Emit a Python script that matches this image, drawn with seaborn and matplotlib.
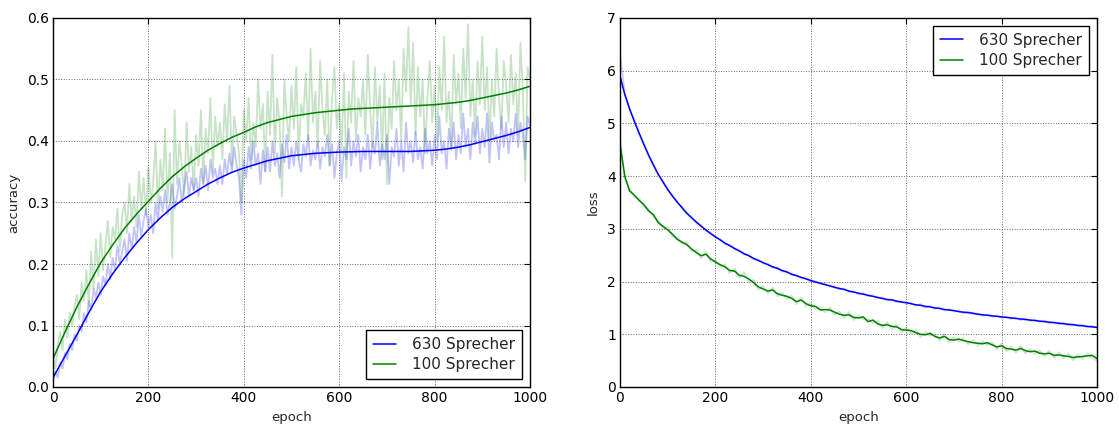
import matplotlib
matplotlib.use("Agg")
import matplotlib.pyplot as plt
import seaborn as sns
import pandas as pd

# ---------------- data ----------------
series_labels = ["630 Sprecher", "100 Sprecher"]

acc_epochs_raw = list(range(0, 1001, 5))
acc630_raw = [
    0.010, 0.025, 0.015, 0.040, 0.030, 0.055, 0.045, 0.070, 0.060, 0.085,
    0.075, 0.100, 0.090, 0.120, 0.105, 0.140, 0.125, 0.160, 0.145, 0.170,
    0.150, 0.180, 0.165, 0.200, 0.175, 0.210, 0.190, 0.230, 0.200, 0.220,
    0.240, 0.205, 0.250, 0.225, 0.260, 0.235, 0.280, 0.245, 0.270, 0.290,
    0.260, 0.280, 0.250, 0.300, 0.270, 0.310, 0.285, 0.320, 0.280, 0.300,
    0.330, 0.290, 0.310, 0.340, 0.300, 0.325, 0.350, 0.310, 0.340, 0.320,
    0.340, 0.310, 0.355, 0.330, 0.360, 0.320, 0.370, 0.340, 0.355, 0.330,
    0.360, 0.330, 0.370, 0.345, 0.380, 0.350, 0.390, 0.360, 0.340, 0.280,
    0.370, 0.340, 0.390, 0.355, 0.400, 0.360, 0.380, 0.330, 0.385, 0.350,
    0.390, 0.350, 0.400, 0.360, 0.380, 0.340, 0.395, 0.365, 0.410, 0.355,
    0.390, 0.360, 0.400, 0.370, 0.350, 0.395, 0.375, 0.410, 0.360, 0.385,
    0.370, 0.400, 0.355, 0.390, 0.375, 0.410, 0.360, 0.395, 0.340, 0.380,
    0.400, 0.335, 0.390, 0.370, 0.420, 0.360, 0.400, 0.375, 0.410, 0.350,
    0.390, 0.370, 0.410, 0.355, 0.400, 0.380, 0.430, 0.360, 0.395, 0.370,
    0.410, 0.330, 0.390, 0.375, 0.420, 0.360, 0.400, 0.350, 0.430, 0.380,
    0.400, 0.365, 0.415, 0.370, 0.390, 0.355, 0.420, 0.380, 0.400, 0.360,
    0.410, 0.370, 0.440, 0.380, 0.400, 0.355, 0.420, 0.385, 0.430, 0.370,
    0.410, 0.380, 0.445, 0.390, 0.420, 0.370, 0.430, 0.395, 0.440, 0.380,
    0.420, 0.390, 0.445, 0.365, 0.430, 0.400, 0.410, 0.370, 0.440, 0.390,
    0.430, 0.380, 0.420, 0.400, 0.445, 0.390, 0.430, 0.410, 0.370, 0.440,
    0.425,
]
acc100_raw = [
    0.050, 0.030, 0.070, 0.090, 0.060, 0.110, 0.080, 0.120, 0.100, 0.130,
    0.150, 0.110, 0.170, 0.140, 0.190, 0.130, 0.220, 0.160, 0.240, 0.180,
    0.250, 0.190, 0.230, 0.270, 0.210, 0.260, 0.240, 0.290, 0.220, 0.280,
    0.300, 0.250, 0.330, 0.270, 0.310, 0.260, 0.350, 0.290, 0.340, 0.280,
    0.360, 0.300, 0.330, 0.400, 0.290, 0.370, 0.320, 0.420, 0.300, 0.380,
    0.210, 0.450, 0.330, 0.400, 0.360, 0.310, 0.430, 0.350, 0.390, 0.320,
    0.410, 0.360, 0.450, 0.330, 0.420, 0.380, 0.470, 0.350, 0.440, 0.390,
    0.430, 0.370, 0.460, 0.400, 0.490, 0.360, 0.440, 0.410, 0.380, 0.300,
    0.450, 0.400, 0.470, 0.370, 0.430, 0.390, 0.500, 0.420, 0.460, 0.350,
    0.480, 0.410, 0.540, 0.380, 0.470, 0.430, 0.310, 0.500, 0.440, 0.400,
    0.490, 0.420, 0.520, 0.370, 0.460, 0.440, 0.510, 0.400, 0.550, 0.430,
    0.480, 0.390, 0.530, 0.450, 0.410, 0.500, 0.360, 0.470, 0.520, 0.420,
    0.460, 0.380, 0.510, 0.340, 0.480, 0.430, 0.530, 0.400, 0.470, 0.440,
    0.500, 0.410, 0.540, 0.450, 0.390, 0.520, 0.430, 0.490, 0.370, 0.510,
    0.330, 0.470, 0.420, 0.530, 0.450, 0.500, 0.400, 0.550, 0.480, 0.585,
    0.460, 0.560, 0.410, 0.520, 0.440, 0.500, 0.380, 0.470, 0.530, 0.430,
    0.490, 0.400, 0.520, 0.450, 0.570, 0.430, 0.480, 0.390, 0.540, 0.460,
    0.510, 0.420, 0.550, 0.470, 0.590, 0.440, 0.500, 0.410, 0.530, 0.460,
    0.570, 0.450, 0.520, 0.400, 0.500, 0.440, 0.550, 0.470, 0.420, 0.530,
    0.490, 0.430, 0.540, 0.460, 0.510, 0.410, 0.560, 0.480, 0.335, 0.520,
    0.500,
]

acc_epochs_fit = list(range(0, 1001, 25))
acc630_fit = [
    0.015, 0.050, 0.085, 0.121, 0.155, 0.184, 0.210, 0.234, 0.256, 0.275,
    0.292, 0.306, 0.318, 0.330, 0.340, 0.349, 0.356, 0.362, 0.368, 0.372,
    0.376, 0.378, 0.380, 0.381, 0.382, 0.3825, 0.383, 0.383, 0.383, 0.383,
    0.383, 0.384, 0.385, 0.387, 0.390, 0.394, 0.399, 0.404, 0.409, 0.415,
    0.422,
]
acc100_fit = [
    0.046, 0.089, 0.130, 0.167, 0.202, 0.231, 0.258, 0.281, 0.302, 0.323,
    0.342, 0.358, 0.372, 0.385, 0.396, 0.406, 0.414, 0.423, 0.430, 0.435,
    0.440, 0.443, 0.446, 0.448, 0.450, 0.452, 0.453, 0.454, 0.455, 0.456,
    0.457, 0.458, 0.459, 0.461, 0.463, 0.466, 0.470, 0.474, 0.478, 0.483,
    0.489,
]

loss_epochs = list(range(0, 1001, 10))
loss630_raw = [
    6.30, 5.58, 5.26, 5.07, 4.80, 4.63, 4.38, 4.23, 4.02, 3.91,
    3.73, 3.64, 3.49, 3.42, 3.28, 3.23, 3.11, 3.07, 2.96, 2.93,
    2.83, 2.81, 2.71, 2.70, 2.61, 2.60, 2.51, 2.51, 2.42, 2.42,
    2.34, 2.34, 2.26, 2.27, 2.19, 2.20, 2.12, 2.13, 2.06, 2.07,
    2.00, 2.01, 1.95, 1.96, 1.90, 1.91, 1.85, 1.87, 1.80, 1.82,
    1.76, 1.78, 1.72, 1.74, 1.68, 1.70, 1.64, 1.67, 1.61, 1.63,
    1.58, 1.60, 1.54, 1.57, 1.51, 1.54, 1.48, 1.51, 1.45, 1.48,
    1.43, 1.45, 1.40, 1.43, 1.38, 1.40, 1.35, 1.38, 1.33, 1.36,
    1.31, 1.34, 1.29, 1.32, 1.27, 1.30, 1.25, 1.28, 1.23, 1.26,
    1.21, 1.24, 1.19, 1.22, 1.17, 1.20, 1.15, 1.18, 1.13, 1.16,
    1.12,
]
loss630_smooth = [
    5.90, 5.55, 5.28, 5.04, 4.82, 4.60, 4.40, 4.21, 4.04, 3.89,
    3.75, 3.62, 3.51, 3.40, 3.30, 3.21, 3.13, 3.05, 2.98, 2.91,
    2.85, 2.79, 2.73, 2.68, 2.63, 2.58, 2.53, 2.49, 2.44, 2.40,
    2.36, 2.32, 2.28, 2.25, 2.21, 2.18, 2.14, 2.11, 2.08, 2.05,
    2.02, 1.99, 1.97, 1.94, 1.92, 1.89, 1.87, 1.85, 1.82, 1.80,
    1.78, 1.76, 1.74, 1.72, 1.70, 1.68, 1.66, 1.65, 1.63, 1.61,
    1.60, 1.58, 1.56, 1.55, 1.53, 1.52, 1.50, 1.49, 1.47, 1.46,
    1.45, 1.43, 1.42, 1.41, 1.40, 1.38, 1.37, 1.36, 1.35, 1.34,
    1.33, 1.32, 1.31, 1.30, 1.29, 1.28, 1.27, 1.26, 1.25, 1.24,
    1.23, 1.22, 1.21, 1.20, 1.19, 1.18, 1.17, 1.16, 1.15, 1.14,
    1.13,
]
loss100_raw = [
    4.75, 3.95, 3.78, 3.60, 3.58, 3.42, 3.38, 3.22, 3.16, 3.00,
    3.03, 2.85, 2.84, 2.71, 2.75, 2.57, 2.60, 2.44, 2.57, 2.38,
    2.41, 2.27, 2.33, 2.16, 2.25, 2.07, 2.18, 2.00, 2.03, 1.85,
    1.91, 1.77, 1.89, 1.72, 1.79, 1.67, 1.73, 1.57, 1.70, 1.53,
    1.59, 1.48, 1.51, 1.42, 1.51, 1.37, 1.43, 1.31, 1.42, 1.27,
    1.36, 1.28, 1.29, 1.22, 1.25, 1.12, 1.23, 1.10, 1.19, 1.04,
    1.13, 1.02, 1.08, 0.95, 1.04, 0.97, 1.01, 0.88, 1.01, 0.85,
    0.94, 0.86, 0.93, 0.81, 0.89, 0.78, 0.87, 0.79, 0.85, 0.71,
    0.83, 0.68, 0.77, 0.65, 0.78, 0.64, 0.72, 0.63, 0.69, 0.58,
    0.69, 0.55, 0.66, 0.54, 0.63, 0.51, 0.62, 0.53, 0.64, 0.55,
    0.50,
]
loss100_smooth = [
    4.60, 4.00, 3.72, 3.64, 3.54, 3.46, 3.34, 3.27, 3.12, 3.05,
    2.98, 2.90, 2.80, 2.75, 2.70, 2.62, 2.55, 2.49, 2.52, 2.43,
    2.37, 2.32, 2.28, 2.21, 2.20, 2.12, 2.10, 2.05, 1.98, 1.90,
    1.86, 1.82, 1.84, 1.77, 1.74, 1.72, 1.68, 1.62, 1.65, 1.58,
    1.54, 1.53, 1.46, 1.47, 1.46, 1.42, 1.38, 1.36, 1.37, 1.32,
    1.31, 1.33, 1.24, 1.27, 1.20, 1.17, 1.18, 1.15, 1.14, 1.09,
    1.08, 1.07, 1.03, 1.00, 0.99, 1.02, 0.96, 0.93, 0.96, 0.90,
    0.89, 0.91, 0.88, 0.86, 0.84, 0.83, 0.82, 0.84, 0.80, 0.76,
    0.78, 0.73, 0.72, 0.70, 0.73, 0.69, 0.67, 0.68, 0.64, 0.63,
    0.64, 0.60, 0.61, 0.59, 0.58, 0.56, 0.57, 0.58, 0.59, 0.60,
    0.54,
]

x_ticks = [0, 200, 400, 600, 800, 1000]
acc_ticks = [0.0, 0.1, 0.2, 0.3, 0.4, 0.5, 0.6]
loss_ticks = [0, 1, 2, 3, 4, 5, 6, 7]

# ---------------- style ----------------
sns.set_style("white")
plt.rcParams["font.family"] = ["DejaVu Sans"]

BLUE = "#0000ff"
GREEN = "#008000"

fig = plt.figure(figsize=(11.19, 4.25), dpi=100)
fig.patch.set_facecolor("white")
ax1 = fig.add_axes([53 / 1119, 38 / 425, 477 / 1119, 369 / 425])
ax2 = fig.add_axes([620 / 1119, 38 / 425, 477 / 1119, 369 / 425])

# accuracy panel
sns.lineplot(x=acc_epochs_raw, y=acc630_raw, ax=ax1, color=BLUE, alpha=0.24, lw=1.3)
sns.lineplot(x=acc_epochs_raw, y=acc100_raw, ax=ax1, color=GREEN, alpha=0.22, lw=1.3)
sns.lineplot(x=acc_epochs_fit, y=acc630_fit, ax=ax1, color=BLUE, lw=1.1, label=series_labels[0])
sns.lineplot(x=acc_epochs_fit, y=acc100_fit, ax=ax1, color=GREEN, lw=1.1, label=series_labels[1])

# loss panel
sns.lineplot(x=loss_epochs, y=loss630_raw, ax=ax2, color=BLUE, alpha=0.2, lw=1.3)
sns.lineplot(x=loss_epochs, y=loss100_raw, ax=ax2, color=GREEN, alpha=0.2, lw=1.3)
sns.lineplot(x=loss_epochs, y=loss630_smooth, ax=ax2, color=BLUE, lw=1.1, label=series_labels[0])
sns.lineplot(x=loss_epochs, y=loss100_smooth, ax=ax2, color=GREEN, lw=1.1, label=series_labels[1])

for ax, yt, ylim, ylab, loc, fmt in [
    (ax1, acc_ticks, (0, 0.6), "accuracy", "lower right", "{:.1f}"),
    (ax2, loss_ticks, (0, 7), "loss", "upper right", "{:d}"),
]:
    ax.set_xlim(0, 1000)
    ax.set_ylim(*ylim)
    ax.set_xticks(x_ticks)
    ax.set_xticklabels([str(t) for t in x_ticks])
    ax.set_yticks(yt)
    ax.set_yticklabels([fmt.format(t) for t in yt])
    ax.tick_params(direction="in", top=True, right=True, length=4, width=0.8,
                   labelsize=10, pad=3, colors="black")
    ax.grid(True, color="0.4", linestyle=":", linewidth=0.7)
    for sp in ax.spines.values():
        sp.set_color("black")
        sp.set_linewidth(1.0)
    ax.set_xlabel("epoch", fontsize=9.5, labelpad=4)
    ax.set_ylabel(ylab, fontsize=9.5, labelpad=5)
    leg = ax.legend(loc=loc, fontsize=11, fancybox=False, framealpha=1,
                    edgecolor="black", handlelength=1.5, handletextpad=1.1,
                    borderpad=0.45, labelspacing=0.35)
    leg.get_frame().set_linewidth(1.0)

fig.savefig("out.png", dpi=100, facecolor="white")
